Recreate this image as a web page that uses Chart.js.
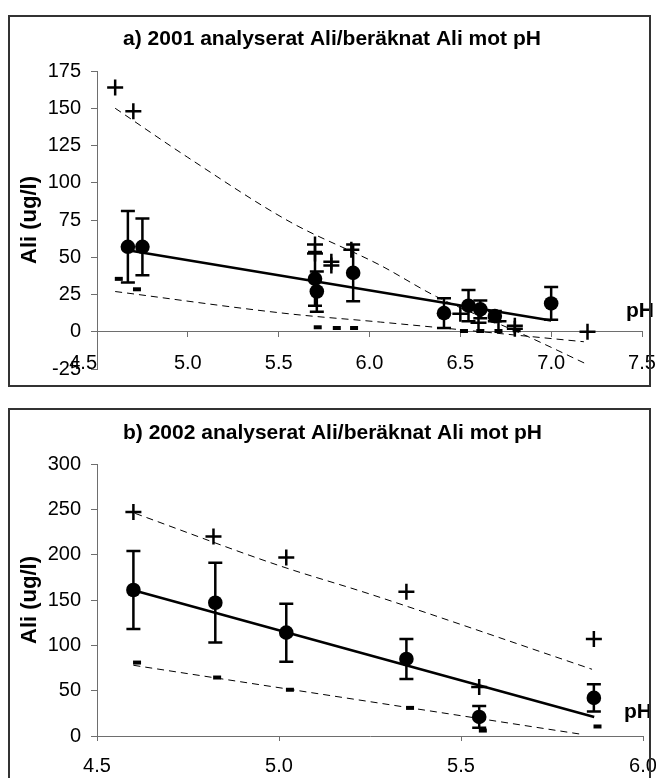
<!DOCTYPE html>
<html><head><meta charset="utf-8">
<script src="https://cdn.jsdelivr.net/npm/chart.js@4.4.0/dist/chart.umd.min.js"></script>
<style>
html,body{margin:0;padding:0;background:#fff;width:656px;height:778px;overflow:hidden;}
.box{position:absolute;border:2px solid #333;box-sizing:border-box;pointer-events:none;}
canvas{position:absolute;left:0;}
</style></head><body>
<canvas id="ca" width="656" height="390" style="top:0"></canvas>
<canvas id="cb" width="656" height="388" style="top:390px"></canvas>
<div class="box" style="left:8px;top:15px;width:643px;height:372px"></div>
<div class="box" style="left:8px;top:408px;width:643px;height:380px"></div>
<script>
// ---------- Chart a) 2001 ----------
const titleA = 'a) 2001 analyserat Ali/beräknat Ali mot pH';
const phMeasA   = [4.67, 4.75, 5.70, 5.71, 5.91, 6.41, 6.545, 6.61, 6.69, 7.00];
const aliMeasA  = [57, 57, 35.5, 27, 39.5, 12.5, 17.5, 15, 10.5, 19];
const errMeasA  = [24, 19, 18, 13.5, 19, 10, 10.5, 6, 3.5, 11];
const phPlusA   = [4.60, 4.70, 5.70, 5.70, 5.79, 5.79, 5.90, 6.50, 6.60, 6.71, 6.80, 6.80, 7.20];
const aliPlusA  = [164, 148, 58.5, 52.5, 47, 44.5, 55, 12, 6, 7, 4, 2, 0];
const phMinusA  = [4.62, 4.72, 5.715, 5.82, 5.915, 6.52, 6.61, 6.71, 6.81];
const aliMinusA = [35.5, 28.5, 3, 2.5, 2.5, 0.5, 0.5, 0.5, 1];
const trendMeasA_ph  = [4.67, 7.00];
const trendMeasA_ali = [54.7, 7.5];
const trendPlusA_ph  = [4.60, 5.00, 5.563, 6.058, 6.37, 6.85, 7.20];
const trendPlusA_ali = [150, 117, 73.7, 44.7, 23.5, -2, -22];
const trendMinusA_ph  = [4.60, 5.56, 6.06, 7.18];
const trendMinusA_ali = [27, 12, 6.5, -6.7];
const xTicksA = [4.5, 5.0, 5.5, 6.0, 6.5, 7.0, 7.5];
const yTicksA = [-25, 0, 25, 50, 75, 100, 125, 150, 175];

// ---------- Chart b) 2002 ----------
const titleB = 'b) 2002 analyserat Ali/beräknat Ali mot pH';
const phMeasB   = [4.60, 4.825, 5.02, 5.35, 5.55, 5.865];
const aliMeasB  = [161, 147, 114, 85, 21, 42];
const errMeasB  = [43, 44, 32, 22, 12, 15];
const phPlusB   = [4.60, 4.82, 5.02, 5.35, 5.55, 5.865];
const aliPlusB  = [247, 220, 197, 159, 54, 107];
const phMinusB  = [4.61, 4.83, 5.03, 5.36, 5.56, 5.875];
const aliMinusB = [81, 64.5, 51, 31, 6, 10.5];
const trendMeasB_ph  = [4.60, 5.866];
const trendMeasB_ali = [160.8, 21];
const trendPlusB_ph  = [4.605, 5.00, 5.25, 5.86];
const trendPlusB_ali = [245.5, 188, 156.5, 73.6];
const trendMinusB_ph  = [4.60, 5.28, 5.837];
const trendMinusB_ali = [78, 36, 1.5];
const xTicksB = [4.5, 5.0, 5.5, 6.0];
const yTicksB = [0, 50, 100, 150, 200, 250, 300];

const FAM = '"Liberation Sans", Arial, Helvetica, sans-serif';
const AXC = '#6e6e6e';
const TICK_SIZE = 20;
const pts = (xs, ys) => xs.map((x, i) => ({x: x, y: ys[i]}));

const errorBarPlugin = {
  id: 'errorBars',
  afterDatasetsDraw(chart) {
    const ctx = chart.ctx, xs = chart.scales.x, ys = chart.scales.y;
    chart.data.datasets.forEach(ds => {
      if (!ds.errorBars) return;
      ctx.save();
      ctx.strokeStyle = '#000';
      ctx.lineWidth = 2.5;
      ds.data.forEach((p, i) => {
        const e = ds.errorBars[i];
        const px = xs.getPixelForValue(p.x);
        const yt = ys.getPixelForValue(p.y + e);
        const yb = ys.getPixelForValue(p.y - e);
        ctx.beginPath();
        ctx.moveTo(px, yt); ctx.lineTo(px, yb);
        ctx.moveTo(px - 7, yt); ctx.lineTo(px + 7, yt);
        ctx.moveTo(px - 7, yb); ctx.lineTo(px + 7, yb);
        ctx.stroke();
      });
      ctx.restore();
    });
  }
};

const phLabelPlugin = {
  id: 'phLabel',
  afterDraw(chart, args, opts) {
    const ctx = chart.ctx;
    const x = chart.chartArea.right + opts.dx;
    const y = chart.scales.y.getPixelForValue(0) + opts.dy;
    ctx.save();
    ctx.font = 'bold 21px ' + FAM;
    ctx.fillStyle = '#000';
    ctx.textAlign = 'center';
    ctx.textBaseline = 'middle';
    ctx.fillText(opts.text, x, y);
    ctx.restore();
  }
};

function makeDatasets(meas, err, plus, minus, tMeas, tPlus, tMinus) {
  return [
    {label: 'trend analyserat', data: tMeas, showLine: true, borderColor: '#000', borderWidth: 2.5, pointRadius: 0, order: 5},
    {label: 'trend beräknat +', data: tPlus, showLine: true, borderColor: '#000', borderWidth: 1, borderDash: [7, 5], pointRadius: 0, cubicInterpolationMode: 'monotone', order: 6},
    {label: 'trend beräknat -', data: tMinus, showLine: true, borderColor: '#000', borderWidth: 1, borderDash: [7, 5], pointRadius: 0, cubicInterpolationMode: 'monotone', order: 7},
    {label: 'analyserat Ali', data: meas, errorBars: err, pointStyle: 'circle', pointRadius: 7.3, backgroundColor: '#000', borderColor: '#000', borderWidth: 0, order: 1},
    {label: 'beräknat Ali +', data: plus, pointStyle: 'cross', pointRadius: 8, borderColor: '#000', backgroundColor: '#000', borderWidth: 2.5, order: 2},
    {label: 'beräknat Ali -', data: minus, pointStyle: 'line', pointRadius: 4, borderColor: '#000', backgroundColor: '#000', borderWidth: 4, order: 3}
  ];
}

function baseOptions(cfg) {
  return {
    responsive: false,
    animation: false,
    devicePixelRatio: 1,
    layout: {padding: cfg.layoutPad},
    plugins: {
      legend: {display: false},
      tooltip: {enabled: false},
      title: {display: true, text: cfg.title, color: '#000',
        font: {family: FAM, size: 21, weight: 'bold', lineHeight: 1.2},
        padding: cfg.titlePad},
      phLabel: {text: 'pH', dx: cfg.phDx, dy: cfg.phDy}
    },
    scales: cfg.scales
  };
}

function yAxis(ticksArr) {
  return {type: 'linear', min: ticksArr[0], max: ticksArr[ticksArr.length - 1],
    afterBuildTicks: s => { s.ticks = ticksArr.map(v => ({value: v})); },
    ticks: {padding: 10, color: '#000', font: {family: FAM, size: TICK_SIZE}},
    grid: {drawOnChartArea: false, tickLength: 6, color: AXC},
    border: {color: AXC},
    title: {display: true, text: 'Ali (ug/l)', color: '#000', font: {family: FAM, size: 22, weight: 'bold'}, padding: {top: -5.7, bottom: 0}},
    afterFit: s => { s.width = 75; s.paddingTop = 0; s.paddingBottom = 0; }};
}

// Chart a
new Chart(document.getElementById('ca'), {
  type: 'scatter',
  data: {datasets: makeDatasets(
    pts(phMeasA, aliMeasA), errMeasA, pts(phPlusA, aliPlusA), pts(phMinusA, aliMinusA),
    pts(trendMeasA_ph, trendMeasA_ali), pts(trendPlusA_ph, trendPlusA_ali), pts(trendMinusA_ph, trendMinusA_ali))},
  options: baseOptions({
    title: titleA,
    layoutPad: {left: 22, right: 14, top: 0, bottom: 0},
    titlePad: {top: 26.4, bottom: 19.4},
    phDx: -2, phDy: -21,
    scales: {
      x: {type: 'linear', position: 'bottom', min: xTicksA[0], max: xTicksA[xTicksA.length - 1],
        afterBuildTicks: s => { s.ticks = xTicksA.map(v => ({value: v})); },
        ticks: {mirror: true, padding: -6, color: '#000', font: {family: FAM, size: TICK_SIZE},
          callback: v => v === 4.5 ? '4.5     ' : Number(v).toFixed(1)},
        grid: {display: false}, border: {display: false},
        afterFit: s => { s.height = 21; s.paddingLeft = 0; s.paddingRight = 0; }},
      xz: {type: 'linear', axis: 'x', position: {y: 0}, min: xTicksA[0], max: xTicksA[xTicksA.length - 1],
        afterBuildTicks: s => { s.ticks = xTicksA.map(v => ({value: v})); },
        ticks: {display: false},
        grid: {drawOnChartArea: false, tickLength: 5, color: AXC},
        border: {color: AXC}},
      y: yAxis(yTicksA)
    }
  }),
  plugins: [errorBarPlugin, phLabelPlugin]
});

// Chart b
new Chart(document.getElementById('cb'), {
  type: 'scatter',
  data: {datasets: makeDatasets(
    pts(phMeasB, aliMeasB), errMeasB, pts(phPlusB, aliPlusB), pts(phMinusB, aliMinusB),
    pts(trendMeasB_ph, trendMeasB_ali), pts(trendPlusB_ph, trendPlusB_ali), pts(trendMinusB_ph, trendMinusB_ali))},
  options: baseOptions({
    title: titleB,
    layoutPad: {left: 22, right: 13, top: 0, bottom: 0},
    titlePad: {top: 30.4, bottom: 18.4},
    phDx: -5, phDy: -24,
    scales: {
      x: {type: 'linear', position: 'bottom', min: xTicksB[0], max: xTicksB[xTicksB.length - 1],
        afterBuildTicks: s => { s.ticks = xTicksB.map(v => ({value: v})); },
        ticks: {padding: 13, color: '#000', font: {family: FAM, size: TICK_SIZE},
          callback: v => Number(v).toFixed(1)},
        grid: {drawOnChartArea: false, tickLength: 5, color: AXC},
        border: {color: AXC},
        afterFit: s => { s.height = 42; s.paddingLeft = 0; s.paddingRight = 0; }},
      y: yAxis(yTicksB)
    }
  }),
  plugins: [errorBarPlugin, phLabelPlugin]
});
</script>
</body></html>
